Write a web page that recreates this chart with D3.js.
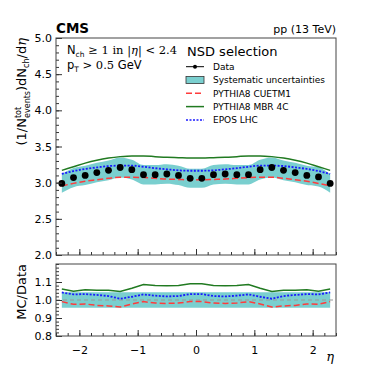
<!DOCTYPE html>
<html>
<head>
<meta charset="utf-8">
<script src="https://cdn.jsdelivr.net/npm/d3@7"></script>
<style>
  body { margin: 0; background: #fff; }
  text { font-family: "DejaVu Sans", sans-serif; fill: #000; }
</style>
</head>
<body>
<div id="chart"></div>
<script>
// eta bin centres and measured values
var eta = [-2.3, -2.1, -1.9, -1.7, -1.5, -1.3, -1.1, -0.9, -0.7, -0.5, -0.3, -0.1,
            0.1, 0.3, 0.5, 0.7, 0.9, 1.1, 1.3, 1.5, 1.7, 1.9, 2.1, 2.3];
var dataVals = [2.99, 3.07, 3.10, 3.14, 3.17, 3.21, 3.18, 3.11, 3.11, 3.12, 3.10, 3.06,
                3.06, 3.11, 3.12, 3.11, 3.11, 3.18, 3.21, 3.17, 3.14, 3.10, 3.08, 2.99];
var sysUnc = 0.043; // relative systematic
var cuetm1 = [2.955, 2.99, 3.02, 3.04, 3.06, 3.075, 3.075, 3.07, 3.06, 3.05, 3.045, 3.04,
              3.04, 3.045, 3.05, 3.06, 3.07, 3.075, 3.075, 3.06, 3.04, 3.02, 2.99, 2.955];
var mbr4c = [3.17, 3.22, 3.27, 3.31, 3.34, 3.36, 3.37, 3.37, 3.36, 3.35, 3.345, 3.34,
             3.34, 3.345, 3.35, 3.36, 3.37, 3.37, 3.36, 3.34, 3.31, 3.27, 3.22, 3.17];
var eposlhc = [3.12, 3.16, 3.19, 3.21, 3.23, 3.235, 3.235, 3.22, 3.20, 3.185, 3.17, 3.165,
               3.165, 3.17, 3.185, 3.20, 3.22, 3.235, 3.235, 3.23, 3.21, 3.19, 3.16, 3.12];
// ratio panel
var ratioCuetm1 = [0.991, 0.976, 0.978, 0.970, 0.967, 0.961, 0.978, 0.991, 0.983, 0.981, 0.983, 0.991,
                   0.991, 0.983, 0.981, 0.983, 0.991, 0.978, 0.961, 0.967, 0.970, 0.978, 0.976, 0.991];
var ratioMbr4c = [1.061, 1.049, 1.057, 1.054, 1.054, 1.047, 1.065, 1.086, 1.080, 1.079, 1.080, 1.090,
                  1.090, 1.080, 1.079, 1.080, 1.086, 1.065, 1.047, 1.054, 1.054, 1.057, 1.049, 1.061];
var ratioEpos = [1.042, 1.031, 1.033, 1.028, 1.022, 1.007, 1.018, 1.031, 1.024, 1.020, 1.022, 1.033,
                 1.033, 1.022, 1.020, 1.024, 1.031, 1.018, 1.007, 1.022, 1.028, 1.033, 1.031, 1.042];
var topTicks = [2.0, 2.5, 3.0, 3.5, 4.0, 4.5, 5.0];
var ratioTicks = [0.8, 0.9, 1.0, 1.1];
var etaTicks = [-2, -1, 0, 1, 2];
var legendLabels = ["Data", "Systematic uncertainties", "PYTHIA8 CUETM1", "PYTHIA8 MBR 4C", "EPOS LHC"];

var W = 374, H = 374;
var left = 56, right = 336;
var top1 = 38, bot1 = 255, top2 = 264, bot2 = 336;

var teal = "#7acfcf", red = "#ff3b3b", green = "#217a21", blue = "#1a1aff";

var svg = d3.select("#chart").append("svg")
  .attr("width", W).attr("height", H);

var x = d3.scaleLinear().domain([-2.4, 2.4]).range([left, right]);
var y1 = d3.scaleLinear().domain([2, 5]).range([bot1, top1]);
var y2 = d3.scaleLinear().domain([0.8, 1.2]).range([bot2, top2]);

var pts = eta.map(function(e, i){ return i; });

// ---- top panel ----
var band = d3.area()
  .x(function(i){ return x(eta[i]); })
  .y0(function(i){ return y1(dataVals[i] * (1 - sysUnc)); })
  .y1(function(i){ return y1(dataVals[i] * (1 + sysUnc)); })
  .curve(d3.curveMonotoneX);
svg.append("path").datum(pts).attr("d", band).attr("fill", teal);

function curveLine(arr, ys){
  return d3.line()
    .x(function(i){ return x(eta[i]); })
    .y(function(i){ return ys(arr[i]); })
    .curve(d3.curveMonotoneX)(pts);
}
svg.append("path").attr("d", curveLine(mbr4c, y1))
  .attr("fill", "none").attr("stroke", green).attr("stroke-width", 1.5);
svg.append("path").attr("d", curveLine(cuetm1, y1))
  .attr("fill", "none").attr("stroke", red).attr("stroke-width", 1.5).attr("stroke-dasharray", "6,3");
svg.append("path").attr("d", curveLine(eposlhc, y1))
  .attr("fill", "none").attr("stroke", blue).attr("stroke-width", 1.8).attr("stroke-dasharray", "2,1.5");

svg.selectAll(".dot").data(pts).enter().append("circle")
  .attr("class", "dot")
  .attr("cx", function(i){ return x(eta[i]); })
  .attr("cy", function(i){ return y1(dataVals[i]); })
  .attr("r", 3.4).attr("fill", "#000");

// ---- ratio panel ----
var rband = d3.area()
  .x(function(i){ return x(eta[i]); })
  .y0(y2(1 - sysUnc)).y1(y2(1 + sysUnc));
svg.append("path").datum(pts).attr("d", rband).attr("fill", teal);
svg.append("line")
  .attr("x1", left).attr("x2", right).attr("y1", y2(1)).attr("y2", y2(1))
  .attr("stroke", "#999").attr("stroke-dasharray", "4,3").attr("stroke-width", 1);

function rLine(arr){
  return d3.line()
    .x(function(i){ return x(eta[i]); })
    .y(function(i){ return y2(arr[i]); })(pts);
}
svg.append("path").attr("d", rLine(ratioMbr4c))
  .attr("fill", "none").attr("stroke", green).attr("stroke-width", 1.5);
svg.append("path").attr("d", rLine(ratioCuetm1))
  .attr("fill", "none").attr("stroke", red).attr("stroke-width", 1.5).attr("stroke-dasharray", "6,3");
svg.append("path").attr("d", rLine(ratioEpos))
  .attr("fill", "none").attr("stroke", blue).attr("stroke-width", 1.8).attr("stroke-dasharray", "2,1.5");

// ---- axes (inward ticks) ----
function axisStyle(g){
  g.select(".domain").remove();
  g.selectAll("line").attr("stroke", "#333");
  g.selectAll("text").style("font-size", "11px").style("font-family", "DejaVu Sans");
}
function xMinor(ytr){
  svg.append("g").attr("transform", "translate(0," + ytr + ")")
    .call(d3.axisTop(x).tickValues(d3.range(-24, 25, 2).map(function(v){ return v / 10; })).tickSize(3).tickFormat(""))
    .call(axisStyle);
}
xMinor(bot1); xMinor(bot2);
svg.append("g").attr("transform", "translate(0," + bot1 + ")")
  .call(d3.axisTop(x).tickValues(etaTicks).tickSize(6).tickFormat(""))
  .call(axisStyle);
svg.append("g").attr("transform", "translate(0," + bot2 + ")")
  .call(d3.axisBottom(x).tickValues(etaTicks).tickSize(-6).tickPadding(10)
    .tickFormat(function(d){ return d < 0 ? "\u2212" + Math.abs(d) : d; }))
  .call(axisStyle);

svg.append("g").attr("transform", "translate(" + left + ",0)")
  .call(d3.axisRight(y1).tickValues(d3.range(20, 51, 1).map(function(v){ return v / 10; })).tickSize(3).tickFormat(""))
  .call(axisStyle);
svg.append("g").attr("transform", "translate(" + left + ",0)")
  .call(d3.axisLeft(y1).tickValues(topTicks).tickSize(-6).tickPadding(4).tickFormat(d3.format(".1f")))
  .call(axisStyle);
svg.append("g").attr("transform", "translate(" + left + ",0)")
  .call(d3.axisRight(y2).tickValues(d3.range(40, 61, 1).map(function(v){ return v / 50; })).tickSize(3).tickFormat(""))
  .call(axisStyle);
svg.append("g").attr("transform", "translate(" + left + ",0)")
  .call(d3.axisLeft(y2).tickValues(ratioTicks).tickSize(-6).tickPadding(4).tickFormat(d3.format(".1f")))
  .call(axisStyle);

// frames
[[top1, bot1], [top2, bot2]].forEach(function(p){
  svg.append("rect").attr("x", left).attr("y", p[0])
    .attr("width", right - left).attr("height", p[1] - p[0])
    .attr("fill", "none").attr("stroke", "#444").attr("stroke-width", 1);
});

// ---- labels ----
svg.append("text").attr("x", left).attr("y", 33)
  .style("font-size", "13.5px").style("font-weight", "bold").text("CMS");
svg.append("text").attr("x", right).attr("y", 33).attr("text-anchor", "end")
  .style("font-size", "11px").text("pp (13 TeV)");

var ytitle = svg.append("text")
  .attr("transform", "translate(26," + top1 + ") rotate(-90)")
  .attr("text-anchor", "end").style("font-size", "13px");
ytitle.append("tspan").text("(1/N");
ytitle.append("tspan").attr("dy", -5).style("font-size", "8px").text("tot");
ytitle.append("tspan").attr("dy", 9).attr("dx", -11).style("font-size", "8px").text("events");
ytitle.append("tspan").attr("dy", -4).text(")dN");
ytitle.append("tspan").attr("dy", 3).style("font-size", "8px").text("ch");
ytitle.append("tspan").attr("dy", -3).text("/d");
ytitle.append("tspan").style("font-family", "DejaVu Serif").style("font-style", "italic").text("\u03b7");

svg.append("text")
  .attr("transform", "translate(26," + top2 + ") rotate(-90)")
  .attr("text-anchor", "end").style("font-size", "13px").text("MC/Data");

svg.append("text").attr("x", right - 2).attr("y", 361).attr("text-anchor", "end")
  .style("font-family", "DejaVu Serif").style("font-style", "italic").style("font-size", "13px").text("\u03b7");

// selection text
var t1 = svg.append("text").attr("x", 67).attr("y", 54).style("font-size", "11.5px");
t1.append("tspan").text("N");
t1.append("tspan").attr("dy", 2.5).style("font-size", "7.5px").text("ch");
t1.append("tspan").attr("dy", -2.5).style("font-family", "DejaVu Serif").style("font-size", "11.5px")
  .text(" \u2265 1 in |");
t1.append("tspan").style("font-family", "DejaVu Serif").style("font-style", "italic").style("font-size", "11.5px").text("\u03b7");
t1.append("tspan").style("font-family", "DejaVu Serif").style("font-size", "11.5px").text("| < 2.4");

var t2 = svg.append("text").attr("x", 67).attr("y", 69).style("font-size", "11.5px");
t2.append("tspan").text("p");
t2.append("tspan").attr("dy", 2.5).style("font-size", "7.5px").text("T");
t2.append("tspan").attr("dy", -2.5).style("font-family", "DejaVu Serif").style("font-size", "11.5px").text(" > 0.5 ");
t2.append("tspan").text("GeV");

// legend
svg.append("text").attr("x", 187).attr("y", 56).style("font-size", "13px").text("NSD selection");
var lx0 = 186, lx1 = 204, ly = 66.7, ldy = 13.3;
legendLabels.forEach(function(lab, i){
  var yy = ly + i * ldy;
  svg.append("text").attr("x", 213).attr("y", yy + 3.3).style("font-size", "9px").text(lab);
});
var g0 = ly;
svg.append("line").attr("x1", lx0).attr("x2", lx1).attr("y1", g0).attr("y2", g0).attr("stroke", "#000");
svg.append("circle").attr("cx", (lx0 + lx1) / 2).attr("cy", g0).attr("r", 2).attr("fill", "#000");
svg.append("rect").attr("x", lx0).attr("y", ly + ldy - 3.5).attr("width", lx1 - lx0).attr("height", 7)
  .attr("fill", teal).attr("stroke", "#333").attr("stroke-width", 0.8);
svg.append("line").attr("x1", lx0).attr("x2", lx1).attr("y1", ly + 2 * ldy).attr("y2", ly + 2 * ldy)
  .attr("stroke", red).attr("stroke-width", 1.5).attr("stroke-dasharray", "6,3");
svg.append("line").attr("x1", lx0).attr("x2", lx1).attr("y1", ly + 3 * ldy).attr("y2", ly + 3 * ldy)
  .attr("stroke", green).attr("stroke-width", 1.5);
svg.append("line").attr("x1", lx0).attr("x2", lx1).attr("y1", ly + 4 * ldy).attr("y2", ly + 4 * ldy)
  .attr("stroke", blue).attr("stroke-width", 1.5).attr("stroke-dasharray", "2,1.5");
</script>
</body>
</html>
